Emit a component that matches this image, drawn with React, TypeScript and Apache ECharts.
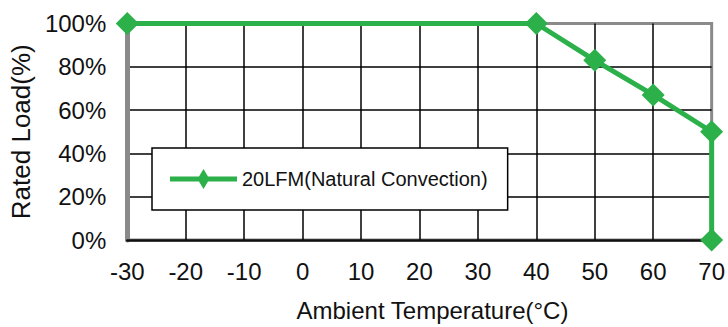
import React, { useEffect, useRef } from "react";
import * as echarts from "echarts";

const temperatures = [-30, 40, 50, 60, 70, 70];
const ratedLoad = [100, 100, 83, 67, 50, 0];
const seriesName = "20LFM(Natural Convection)";
const xTitle = "Ambient Temperature(\u00B0C)";
const yTitle = "Rated Load(%)";

const GREEN = "#2bb04a";
const FONT = "'Liberation Sans', Arial, sans-serif";
const LEGEND_ICON =
  "path://M0,7.5L67,7.5L67,12.5L0,12.5Z M33.5,0L39.5,10L33.5,20L27.5,10Z";

export default function App() {
  const ref = useRef<HTMLDivElement>(null);
  useEffect(() => {
    if (!ref.current) return;
    const chart = echarts.init(ref.current, undefined, { renderer: "svg" });
    chart.setOption({
      animation: false,
      backgroundColor: "#fff",
      textStyle: { fontFamily: FONT },
      grid: {
        left: 123,
        right: 12,
        top: 23.5,
        bottom: 84,
        show: true,
        borderColor: "#8a8a8a",
        borderWidth: 3,
        backgroundColor: "transparent",
      },
      legend: {
        left: 152,
        top: 148,
        orient: "horizontal",
        padding: [21, 20, 21, 18],
        itemWidth: 67,
        itemHeight: 20,
        itemGap: 5,
        borderColor: "#000",
        borderWidth: 1.5,
        backgroundColor: "#fff",
        textStyle: { fontSize: 20, color: "#111", fontFamily: FONT },
        data: [{ name: seriesName, icon: LEGEND_ICON, itemStyle: { color: GREEN } }],
      },
      xAxis: {
        type: "value",
        min: -30,
        max: 70,
        interval: 10,
        name: xTitle,
        nameLocation: "middle",
        nameGap: 58,
        nameTextStyle: { fontSize: 24, color: "#111", padding: [0, 0, 0, 26] },
        axisLine: { show: true, onZero: false, lineStyle: { color: "#111", width: 2.5 } },
        axisTick: { show: false },
        axisLabel: { fontSize: 24, color: "#111", margin: 19 },
        splitLine: {
          show: true,
          showMinLine: false,
          showMaxLine: false,
          lineStyle: { color: "#000", width: 1.5 },
        },
      },
      yAxis: {
        type: "value",
        min: 0,
        max: 100,
        interval: 20,
        name: yTitle,
        nameLocation: "middle",
        nameGap: 92,
        nameRotate: 90,
        nameTextStyle: { fontSize: 26, color: "#111" },
        axisLine: { show: true, onZero: false, lineStyle: { color: "#8a8a8a", width: 5 } },
        axisTick: { show: false },
        axisLabel: { fontSize: 24, color: "#111", margin: 21, formatter: "{value}%" },
        splitLine: {
          show: true,
          showMinLine: false,
          showMaxLine: false,
          lineStyle: { color: "#000", width: 1.5 },
        },
      },
      series: [
        {
          name: seriesName,
          type: "line",
          data: temperatures.map((t, i) => [t, ratedLoad[i]]),
          symbol: "diamond",
          symbolSize: 23,
          clip: false,
          z: 10,
          lineStyle: { color: GREEN, width: 5 },
          itemStyle: { color: GREEN },
        },
      ],
    });
    return () => chart.dispose();
  }, []);
  return <div ref={ref} style={{ width: 728, height: 327, position: "absolute", left: 0, top: 0 }} />;
}
